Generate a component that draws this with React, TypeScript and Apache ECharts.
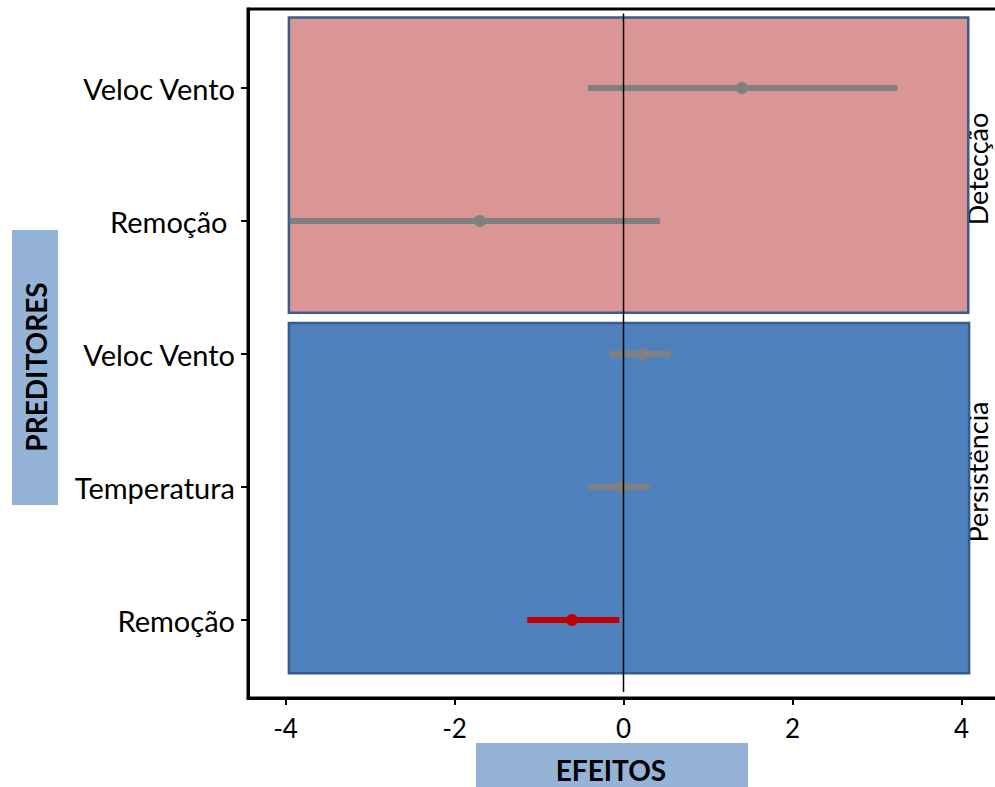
import React, { useEffect, useRef } from "react";
import * as echarts from "echarts";

// Predictor rows, top to bottom (Detecção: rows 0-1, Persistência: rows 2-4)
const rowLabels = ["Veloc Vento", "Remoção ", "Veloc Vento", "Temperatura", "Remoção"];
const estimates = [1.4, -1.7, 0.22, -0.03, -0.61];
const lower = [-0.42, -3.95, -0.17, -0.42, -1.14];
const upper = [3.24, 0.43, 0.56, 0.31, -0.05];
const xTicks = [-4, -2, 0, 2, 4];
const rowTicks = [0, 1, 2, 3, 4];

const FONT = "Lato";
const GREY = "#808080";
const RED = "#c00000";

export default function App() {
  const ref = useRef<HTMLDivElement>(null);

  useEffect(() => {
    document.body.style.margin = "0";
    const chart = echarts.init(ref.current!, undefined, { renderer: "svg" });

    const effectData = rowTicks.map((r) => [estimates[r], r, lower[r], upper[r]]);

    // model panels: [xMin, yMin, xMax, yMax, fill]
    const panels = [
      [-3.96, -0.53, 4.08, 1.69, "#d99694"],
      [-3.96, 1.767, 4.09, 4.4, "#4f81bd"],
    ];

    const stripText = (text: string, y: number) => ({
      type: "text",
      x: 977,
      y,
      rotation: Math.PI / 2,
      style: {
        text,
        font: `27px ${FONT}`,
        lineHeight: 20,
        fill: "#000",
        textAlign: "center",
        textVerticalAlign: "middle",
      },
    });

    chart.setOption({
      animation: false,
      grid: {
        left: 248,
        top: 9,
        right: 0,
        bottom: 89,
        show: true,
        borderColor: "#000",
        borderWidth: 3,
      },
      xAxis: {
        type: "value",
        min: -4.444,
        max: 4.633,
        splitLine: { show: false },
        axisLine: { show: true, onZero: false, lineStyle: { color: "#000", width: 3 } },
        axisTick: {
          show: true,
          customValues: xTicks,
          length: 7,
          lineStyle: { color: "#000", width: 2 },
        },
        axisLabel: {
          customValues: xTicks,
          fontFamily: FONT,
          fontSize: 26,
          color: "#000",
          margin: 17,
        },
      },
      yAxis: {
        type: "value",
        inverse: true,
        min: -0.594,
        max: 4.586,
        splitLine: { show: false },
        axisLine: { show: true, onZero: false, lineStyle: { color: "#000", width: 3 } },
        axisTick: {
          show: true,
          customValues: rowTicks,
          length: 7,
          lineStyle: { color: "#000", width: 2 },
        },
        axisLabel: {
          customValues: rowTicks,
          formatter: (v: number) => rowLabels[Math.round(v)],
          fontFamily: FONT,
          fontSize: 29,
          color: "#000",
          margin: 13,
        },
      },
      series: [
        {
          type: "custom",
          name: "panels",
          z: 1,
          silent: true,
          data: panels,
          encode: { x: [0, 2], y: [1, 3] },
          renderItem: (params: any, api: any) => {
            const p0 = api.coord([api.value(0), api.value(1)]);
            const p1 = api.coord([api.value(2), api.value(3)]);
            const fill = panels[params.dataIndex][4] as string;
            return {
              type: "rect",
              shape: { x: p0[0], y: p0[1], width: p1[0] - p0[0], height: p1[1] - p0[1] },
              style: { fill, stroke: "#385d8a", lineWidth: 2.5 },
            };
          },
        },
        {
          type: "custom",
          name: "effects",
          z: 2,
          data: effectData,
          encode: { x: [0, 2, 3], y: 1 },
          renderItem: (params: any, api: any) => {
            const row = api.value(1);
            const lo = api.value(2);
            const hi = api.value(3);
            const color = hi < 0 || lo > 0 ? RED : GREY;
            const a = api.coord([lo, row]);
            const b = api.coord([hi, row]);
            const c = api.coord([api.value(0), row]);
            return {
              type: "group",
              children: [
                {
                  type: "line",
                  shape: { x1: a[0], y1: a[1], x2: b[0], y2: b[1] },
                  style: { stroke: color, lineWidth: 6 },
                },
                {
                  type: "circle",
                  shape: { cx: c[0], cy: c[1], r: 6 },
                  style: { fill: color },
                },
              ],
            };
          },
        },
        {
          type: "line",
          name: "zero",
          z: 3,
          silent: true,
          symbol: "none",
          data: [
            [0, -0.56],
            [0, 4.54],
          ],
          lineStyle: { color: "#000", width: 1.5 },
        },
      ],
      graphic: [
        { type: "rect", left: 12, top: 230, shape: { width: 46, height: 275 }, style: { fill: "#95b3d7" } },
        {
          type: "text",
          x: 36,
          y: 367,
          rotation: Math.PI / 2,
          style: {
            text: "PREDITORES",
            font: `bold 28px ${FONT}`,
            fill: "#000",
            textAlign: "center",
            textVerticalAlign: "middle",
          },
        },
        { type: "rect", left: 476, top: 743, shape: { width: 272, height: 44 }, style: { fill: "#95b3d7" } },
        {
          type: "text",
          x: 611,
          y: 770,
          style: {
            text: "EFEITOS",
            font: `bold 28px ${FONT}`,
            fill: "#000",
            textAlign: "center",
            textVerticalAlign: "middle",
          },
        },
        stripText("Detecção", 169),
        stripText("Persistência", 472),
      ],
    });

    return () => chart.dispose();
  }, []);

  return (
    <div style={{ width: 995, height: 787, overflow: "hidden", position: "relative" }}>
      <div ref={ref} style={{ width: 1015, height: 787 }} />
    </div>
  );
}
